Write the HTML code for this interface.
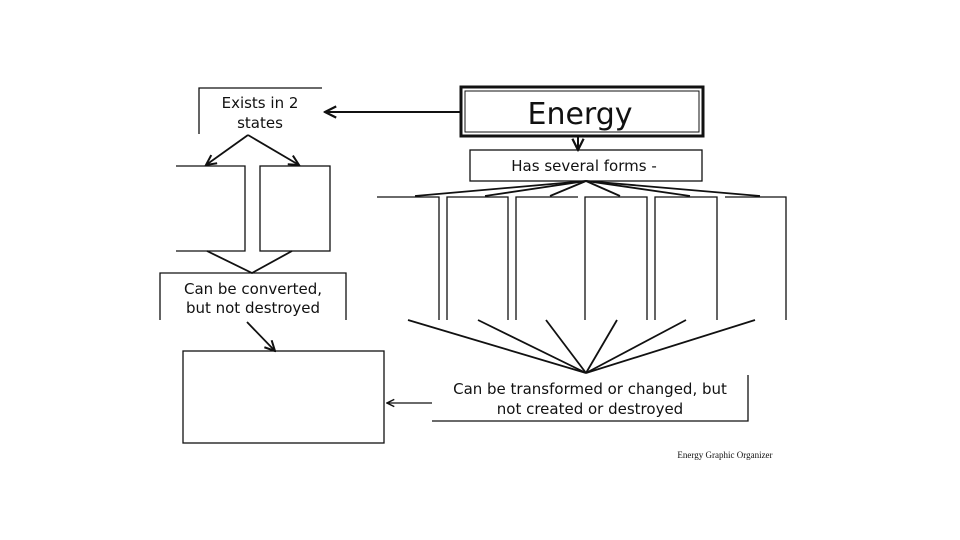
<!DOCTYPE html>
<html><head><style>
html,body{margin:0;padding:0;background:#fff;}
svg{display:block;}
text{font-family:"DejaVu Sans","Liberation Sans",sans-serif;fill:#111;}
</style></head><body>
<svg width="960" height="540" viewBox="0 0 960 540" xmlns="http://www.w3.org/2000/svg">
<defs>
<marker id="a" viewBox="0 0 10 10" refX="9" refY="5" markerWidth="7" markerHeight="7" orient="auto-start-reverse">
<path d="M1,1 L9,5 L1,9" fill="none" stroke="#111" stroke-width="1.6"/>
</marker>
</defs>
<g stroke="#111" stroke-width="1.3" fill="none">
<!-- Exists box -->
<polyline points="322,88 199,88 199,134"/>
<!-- arrow Energy -> Exists -->
<line x1="460" y1="112" x2="325" y2="112" stroke-width="2" marker-end="url(#a)"/>
<!-- Energy box -->
<rect x="461" y="87" width="242" height="49" stroke-width="3"/>
<rect x="465" y="91" width="234" height="41" stroke-width="1"/>
<line x1="578" y1="136" x2="578" y2="150" stroke-width="2" marker-end="url(#a)"/>
<!-- Has several forms -->
<rect x="470" y="150" width="232" height="31"/>
<!-- fan up -->
<g stroke-width="1.8">
<line x1="586" y1="181" x2="415" y2="196"/>
<line x1="586" y1="181" x2="485" y2="196"/>
<line x1="586" y1="181" x2="550" y2="196"/>
<line x1="586" y1="181" x2="620" y2="196"/>
<line x1="586" y1="181" x2="690" y2="196"/>
<line x1="586" y1="181" x2="760" y2="196"/>
</g>
<!-- form columns -->
<polyline points="377,197 439,197 439,320"/>
<polyline points="447,320 447,197 508,197 508,320"/>
<polyline points="516,320 516,197 578,197"/>
<polyline points="585,320 585,197 647,197 647,320"/>
<polyline points="655,320 655,197 717,197 717,320"/>
<polyline points="725,197 786,197 786,320"/>
<!-- fan down -->
<g stroke-width="1.8">
<line x1="408" y1="320" x2="586" y2="373"/>
<line x1="478" y1="320" x2="586" y2="373"/>
<line x1="546" y1="320" x2="586" y2="373"/>
<line x1="617" y1="320" x2="586" y2="373"/>
<line x1="686" y1="320" x2="586" y2="373"/>
<line x1="755" y1="320" x2="586" y2="373"/>
</g>
<!-- transformed box -->
<polyline points="748,375 748,421 432,421"/>
<line x1="432" y1="403" x2="387" y2="403" marker-end="url(#a)"/>
<!-- left bottom box -->
<rect x="183" y="351" width="201" height="92"/>
<!-- two state arrows -->
<line x1="248" y1="135" x2="206" y2="165" stroke-width="1.8" marker-end="url(#a)"/>
<line x1="248" y1="135" x2="299" y2="165" stroke-width="1.8" marker-end="url(#a)"/>
<polyline points="176,166 245,166 245,251 176,251"/>
<rect x="260" y="166" width="70" height="85"/>
<polyline points="207,251 252,273 292,251" stroke-width="1.8"/>
<polyline points="160,320 160,273 346,273 346,320"/>
<line x1="247" y1="322" x2="275" y2="351" stroke-width="1.8" marker-end="url(#a)"/>
</g>
<text x="260" y="108" font-size="15" text-anchor="middle">Exists in 2</text>
<text x="260" y="128" font-size="15" text-anchor="middle">states</text>
<text x="580" y="124" font-size="30" text-anchor="middle">Energy</text>
<text x="584" y="171" font-size="15" text-anchor="middle">Has several forms -</text>
<text x="253" y="294" font-size="15" text-anchor="middle">Can be converted,</text>
<text x="253" y="313" font-size="15" text-anchor="middle">but not destroyed</text>
<text x="590" y="394" font-size="15" text-anchor="middle">Can be transformed or changed, but</text>
<text x="590" y="414" font-size="15" text-anchor="middle">not created or destroyed</text>
<text x="725" y="458" font-size="9" text-anchor="middle" style="font-family:'Liberation Serif',serif">Energy Graphic Organizer</text>
</svg>
</body></html>
